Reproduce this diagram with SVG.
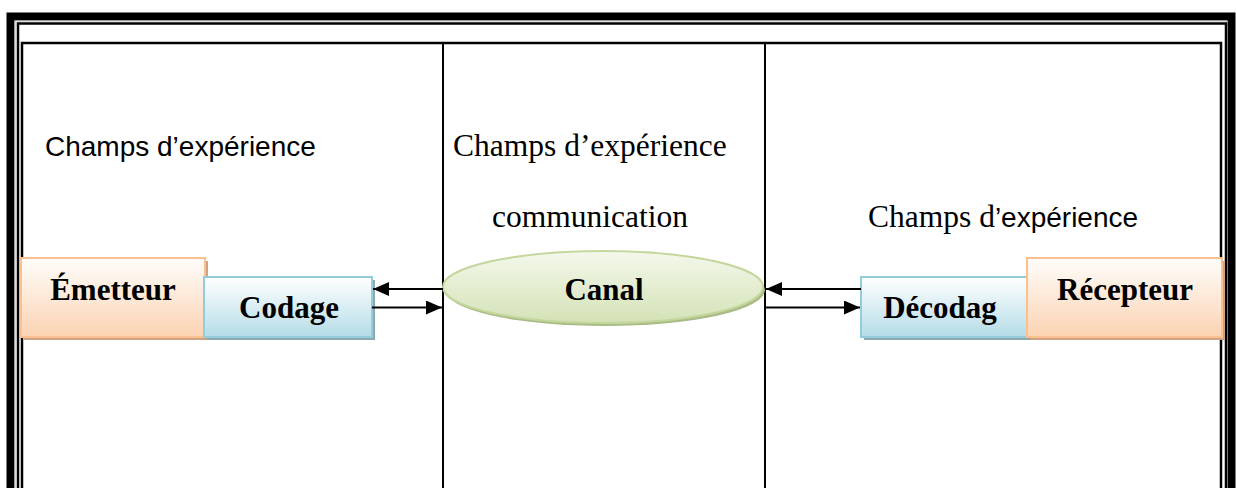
<svg xmlns="http://www.w3.org/2000/svg" width="1236" height="488" viewBox="0 0 1236 488">
<defs>
<linearGradient id="gOr" x1="0" y1="0" x2="0" y2="1"><stop offset="0" stop-color="#fffdfb"/><stop offset="1" stop-color="#fbd3b2"/></linearGradient>
<linearGradient id="gBl" x1="0" y1="0" x2="0" y2="1"><stop offset="0" stop-color="#ffffff"/><stop offset="1" stop-color="#b5dce7"/></linearGradient>
<linearGradient id="gGr" x1="0" y1="0" x2="0" y2="1"><stop offset="0" stop-color="#f4f8ec"/><stop offset="1" stop-color="#d4e2b6"/></linearGradient>
<marker id="ah" viewBox="0 0 16 14" refX="16" refY="7" markerWidth="16" markerHeight="14" markerUnits="userSpaceOnUse" orient="auto"><path d="M0,0 L16,7 L0,14 z" fill="#000"/></marker>
</defs>
<style>
.frame{fill:none;stroke:#000}
.lbl{font-family:"Liberation Serif","Times New Roman",serif;font-weight:bold;font-size:31px;text-anchor:middle;fill:#000}
.serif{font-family:"Liberation Serif","Times New Roman",serif;font-size:31.5px;fill:#000}
.sans{font-family:"Liberation Sans",Arial,sans-serif;font-size:28px;fill:#000}
.conn{stroke:#000;stroke-width:2;fill:none;marker-end:url(#ah)}
.or{fill:url(#gOr);stroke:#fac090;stroke-width:2}
.orS{fill:#cfa283}
.bl{fill:url(#gBl);stroke:#92cddc;stroke-width:2}
.blS{fill:#8fa8ae}
</style>
<rect width="1236" height="488" fill="#fff"/>
<g id="frame">
<rect class="frame" x="10.5" y="16.5" width="1221" height="520" stroke-width="8"/>
<rect x="15" y="21" width="1212" height="520" fill="none" stroke="#bbb" stroke-width="1"/>
<rect class="frame" x="18" y="23.5" width="1208" height="520" stroke-width="2.5"/>
<rect class="frame" x="22" y="43" width="1199" height="520" stroke-width="2.5"/>
<line x1="443" y1="43" x2="443" y2="488" stroke="#000" stroke-width="2"/>
<line x1="765" y1="43" x2="765" y2="488" stroke="#000" stroke-width="2"/>
</g>
<g id="texts">
<text class="sans" x="45" y="156">Champs d’expérience</text>
<text class="serif" x="453" y="156">Champs d’expérience</text>
<text class="serif" x="590" y="227" text-anchor="middle">communication</text>
<text x="868" y="227"><tspan class="serif">Champs d</tspan><tspan class="sans" font-size="27">’expérience</tspan></text>
</g>
<g id="emetteur">
<rect class="orS" x="24" y="261" width="184" height="79"/>
<rect class="or" x="21" y="258" width="184" height="79"/>
<text class="lbl" x="113" y="300">Émetteur</text>
</g>
<g id="codage">
<rect class="blS" x="207" y="280" width="168" height="60"/>
<rect class="bl" x="204" y="277" width="168" height="60"/>
<text class="lbl" x="289" y="318">Codage</text>
</g>
<g id="canal">
<ellipse cx="605" cy="290" rx="160" ry="36" fill="#a9bb86"/>
<ellipse cx="603" cy="287" rx="160" ry="36" fill="url(#gGr)" stroke="#c3d69b" stroke-width="2"/>
<text class="lbl" x="604" y="300">Canal</text>
</g>
<g id="decodag">
<rect class="blS" x="864" y="280" width="166" height="60"/>
<rect class="bl" x="861" y="277" width="166" height="60"/>
<text class="lbl" x="940" y="318">Décodag</text>
</g>
<g id="recepteur">
<rect class="orS" x="1030" y="261" width="195" height="79"/>
<rect class="or" x="1027" y="258" width="195" height="79"/>
<text class="lbl" x="1125" y="300">Récepteur</text>
</g>
<g id="connectors">
<line class="conn" x1="443" y1="289" x2="373" y2="289"/>
<line class="conn" x1="372" y1="307.5" x2="442" y2="307.5"/>
<line class="conn" x1="861" y1="289" x2="766" y2="289"/>
<line class="conn" x1="765" y1="307.5" x2="860" y2="307.5"/>
</g>
</svg>
